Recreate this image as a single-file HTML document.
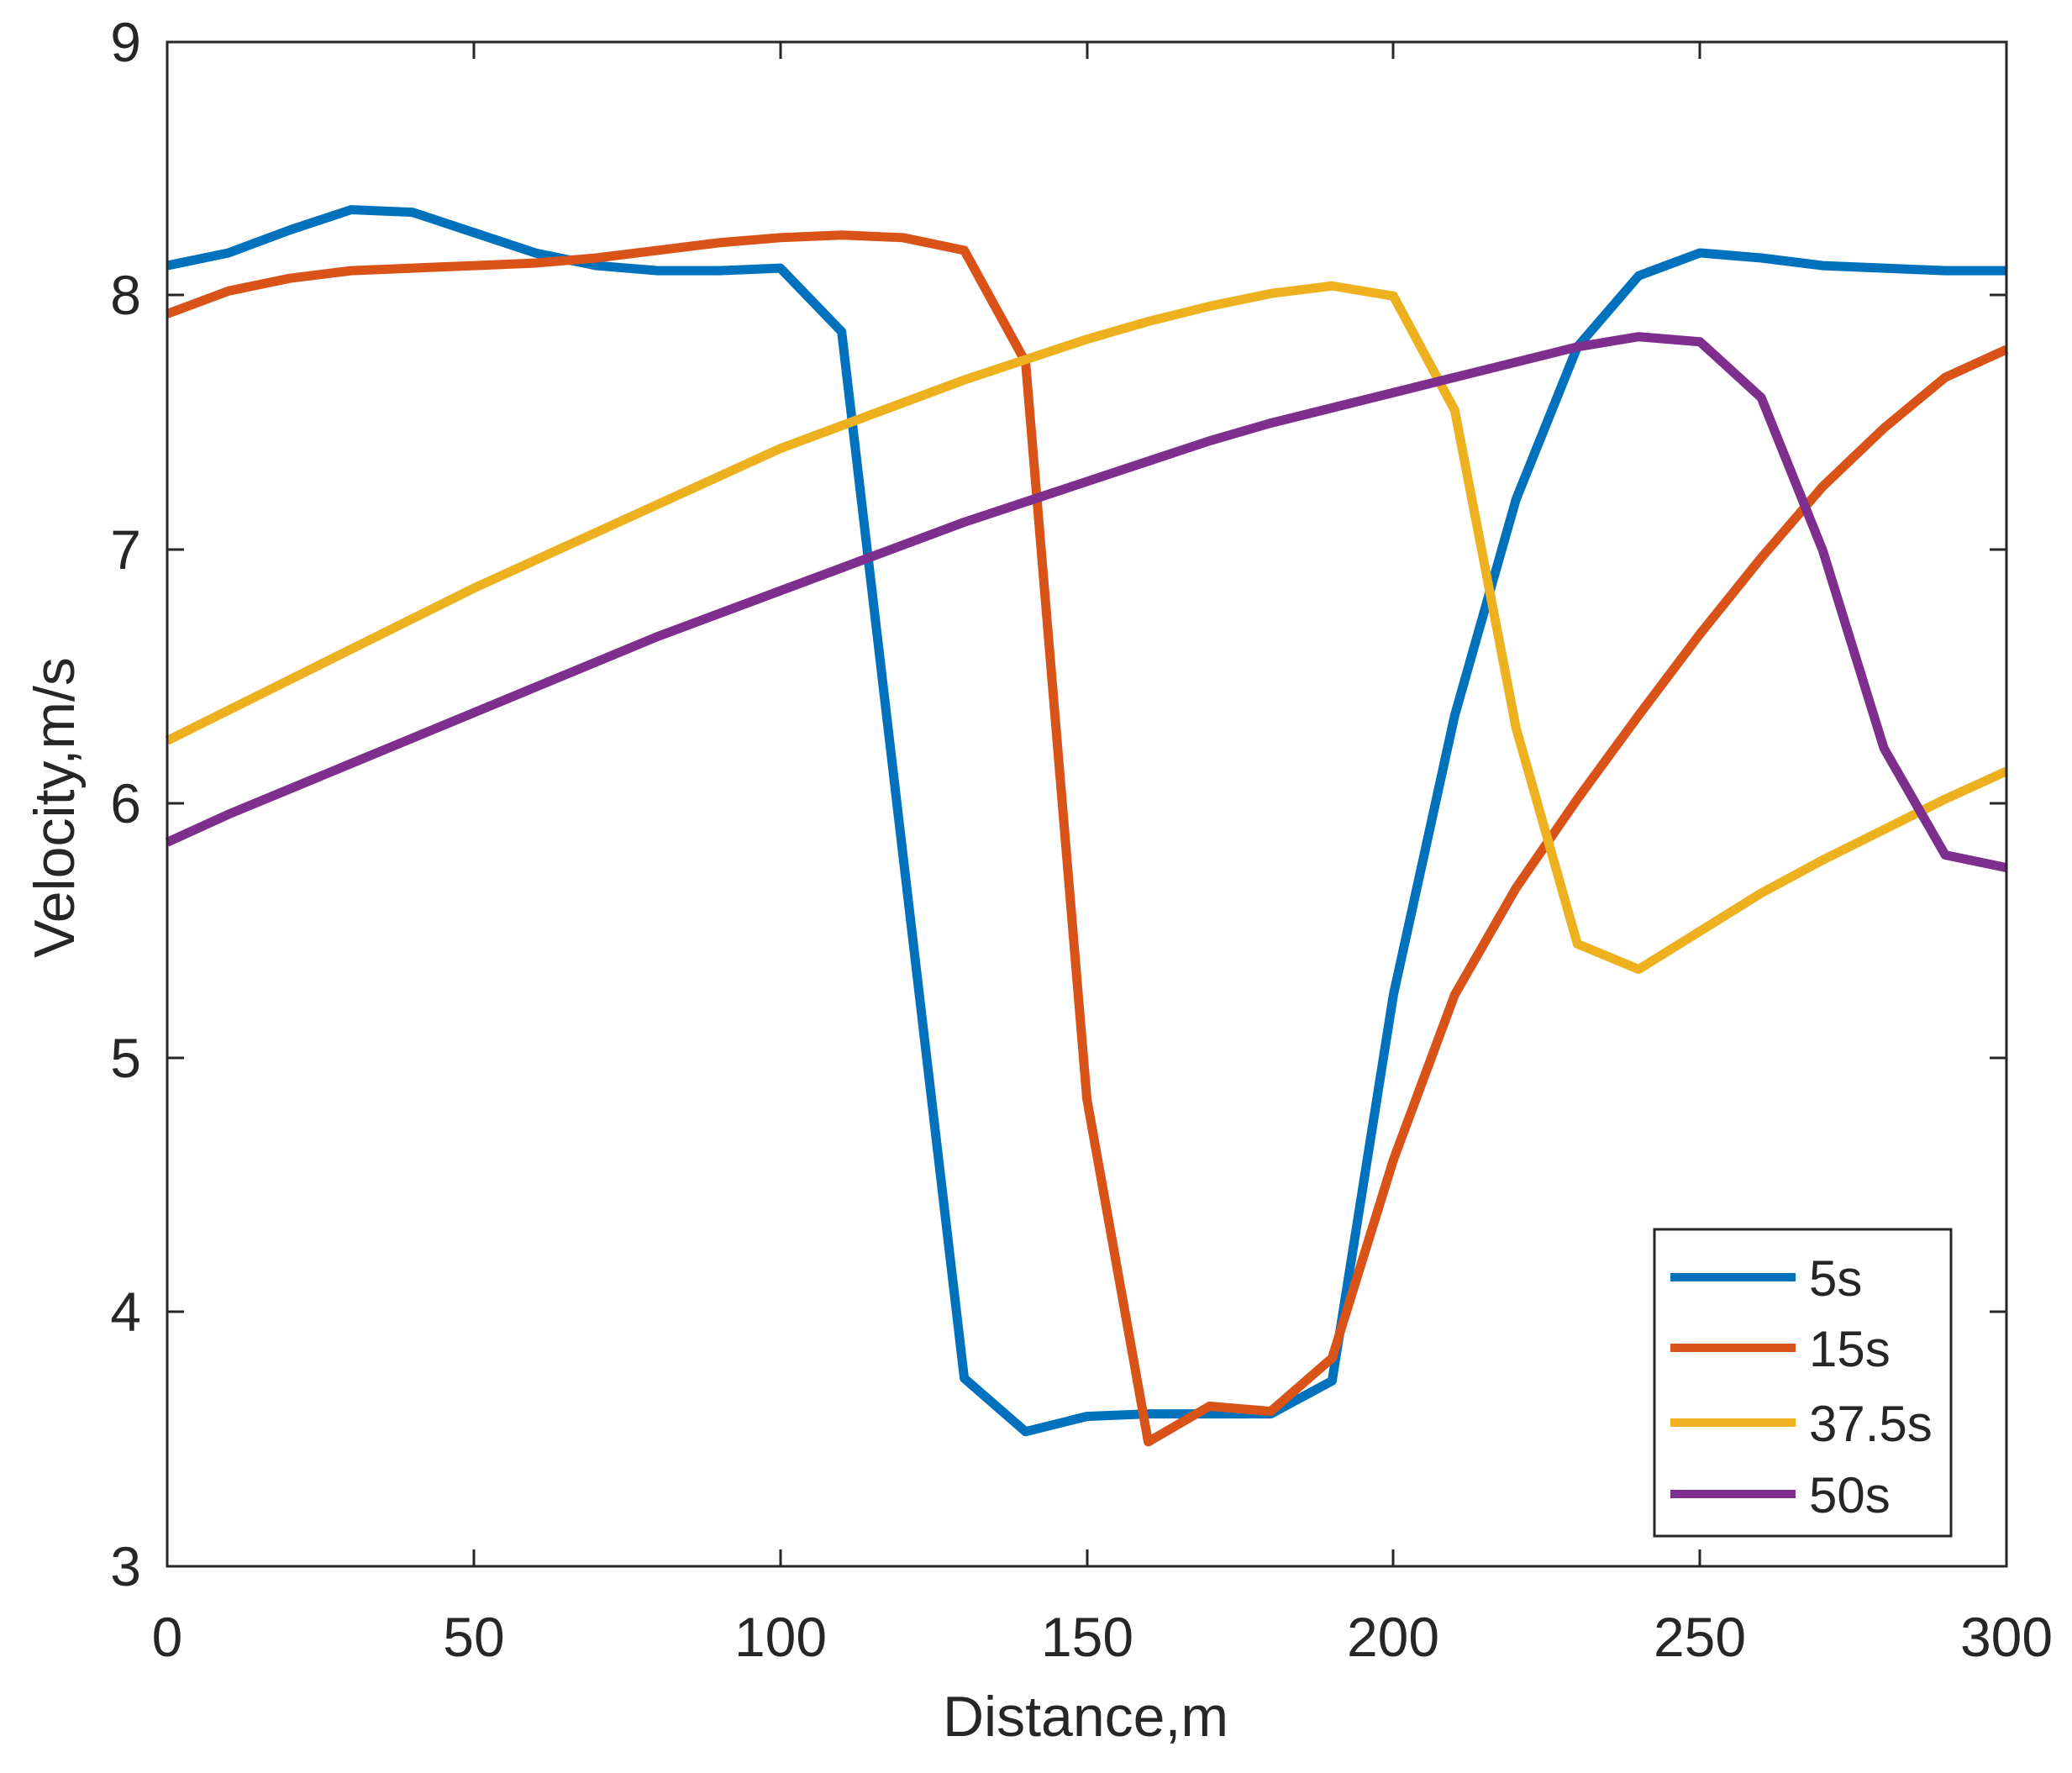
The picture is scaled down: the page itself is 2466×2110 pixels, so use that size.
<!DOCTYPE html>
<html><head><meta charset="utf-8"><style>
html,body{margin:0;padding:0;background:#fff;}
svg{display:block;}
text{font-family:"Liberation Sans",Arial,sans-serif;fill:#262626;}
</style></head><body>
<svg width="2466" height="2110" viewBox="0 0 2466 2110" xmlns="http://www.w3.org/2000/svg">
<rect width="2466" height="2110" fill="#fff"/>
<g transform="translate(199,1864) scale(7.297,-302.33) translate(0,-3)" fill="none" stroke-width="11" stroke-linejoin="round">
<polyline vector-effect="non-scaling-stroke" stroke="#0072BD" points="0,8.12 10,8.17 20,8.26 30,8.34 40,8.33 50,8.25 60,8.17 70,8.12 80,8.10 90,8.10 100,8.11 110,7.86 120,5.8 130,3.74 140,3.53 150,3.59 160,3.60 170,3.60 180,3.60 190,3.73 200,5.25 210,6.35 220,7.2 230,7.8 240,8.08 250,8.17 260,8.15 270,8.12 280,8.11 290,8.10 300,8.10"/>
<polyline vector-effect="non-scaling-stroke" stroke="#D95319" points="0,7.93 10,8.02 20,8.07 30,8.10 40,8.11 50,8.12 60,8.13 70,8.15 80,8.18 90,8.21 100,8.23 110,8.24 120,8.23 130,8.18 140,7.74 150,4.84 160,3.49 170,3.63 180,3.61 190,3.82 200,4.6 210,5.25 220,5.67 230,6.02 240,6.35 250,6.67 260,6.97 270,7.25 280,7.48 290,7.68 300,7.79"/>
<polyline vector-effect="non-scaling-stroke" stroke="#EDB120" points="0,6.25 10,6.37 20,6.49 30,6.61 40,6.73 50,6.85 60,6.96 70,7.07 80,7.18 90,7.29 100,7.40 110,7.49 120,7.58 130,7.67 140,7.75 150,7.83 160,7.90 170,7.96 180,8.01 190,8.04 200,8.0 210,7.55 220,6.3 230,5.45 240,5.35 250,5.5 260,5.65 270,5.78 280,5.9 290,6.02 300,6.13"/>
<polyline vector-effect="non-scaling-stroke" stroke="#7E2F8E" points="0,5.85 10,5.96 20,6.06 30,6.16 40,6.26 50,6.36 60,6.46 70,6.56 80,6.66 90,6.75 100,6.84 110,6.93 120,7.02 130,7.11 140,7.19 150,7.27 160,7.35 170,7.43 180,7.50 190,7.56 200,7.62 210,7.68 220,7.74 230,7.80 240,7.84 250,7.82 260,7.6 270,7.0 280,6.22 290,5.8 300,5.75"/>
</g>
<g stroke="#262626" stroke-width="3" fill="none">
<rect x="199" y="50" width="2189" height="1814"/>
<path d="M199,351h20M199,654h20M199,956h20M199,1259h20M199,1561h20M2388,351h-20M2388,654h-20M2388,956h-20M2388,1259h-20M2388,1561h-20M564,1864v-20M929,1864v-20M1294,1864v-20M1658,1864v-20M2023,1864v-20M564,50v20M929,50v20M1294,50v20M1658,50v20M2023,50v20"/>
</g>
<g font-size="66" text-anchor="end">
<text x="168" y="73">9</text><text x="168" y="374">8</text><text x="168" y="677">7</text><text x="168" y="979">6</text><text x="168" y="1282">5</text><text x="168" y="1584">4</text><text x="168" y="1887">3</text>
</g>
<g font-size="66" text-anchor="middle">
<text x="199" y="1971">0</text><text x="564" y="1971">50</text><text x="929" y="1971">100</text><text x="1294" y="1971">150</text><text x="1658" y="1971">200</text><text x="2023" y="1971">250</text><text x="2388" y="1971">300</text>
<text x="1292" y="2066" font-size="68">Distance,m</text>
<text transform="translate(88,961) rotate(-90)" font-size="68">Velocity,m/s</text>
</g>
<rect x="1969" y="1463" width="353" height="365" fill="#fff" stroke="#262626" stroke-width="3"/>
<g stroke-width="10">
<path d="M1988,1520h149" stroke="#0072BD"/>
<path d="M1988,1604h149" stroke="#D95319"/>
<path d="M1988,1693h149" stroke="#EDB120"/>
<path d="M1988,1778h149" stroke="#7E2F8E"/>
</g>
<g font-size="60">
<text x="2153" y="1542">5s</text><text x="2153" y="1626">15s</text><text x="2153" y="1715">37.5s</text><text x="2153" y="1800">50s</text>
</g>
</svg>
</body></html>
